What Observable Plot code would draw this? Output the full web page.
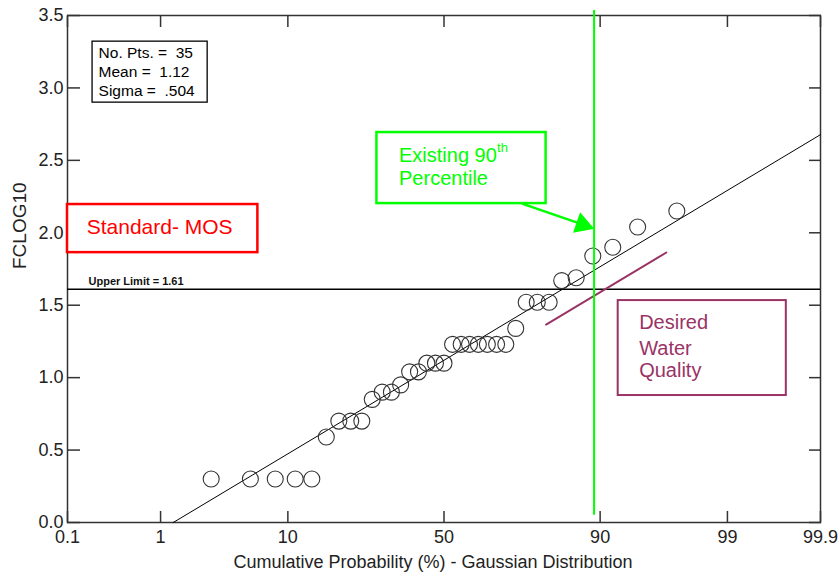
<!DOCTYPE html>
<html><head><meta charset="utf-8">
<script src="https://cdn.jsdelivr.net/npm/d3@7"></script>
<script src="https://cdn.jsdelivr.net/npm/@observablehq/plot@0.6"></script>
<style>body{margin:0;background:#fff;} svg{display:block;}</style>
</head><body><div id="chart"></div>
<script>
// ---- data ----
const probTicks = [0.1, 1, 10, 50, 90, 99, 99.9];
const probTickLabels = ["0.1", "1", "10", "50", "90", "99", "99.9"];
const yTicks = [0, 0.5, 1, 1.5, 2, 2.5, 3, 3.5];
const yTickLabels = ["0.0", "0.5", "1.0", "1.5", "2.0", "2.5", "3.0", "3.5"];
const cumProb = [2.8, 5.6, 8.3, 11.1, 13.9, 16.7, 19.4, 22.2, 25.0, 27.8, 30.6, 33.3, 36.1, 38.9, 41.7, 44.4, 47.2, 50.0, 52.8, 55.6, 58.3, 61.1, 63.9, 66.7, 69.4, 72.2, 75.0, 77.8, 80.6, 83.3, 86.1, 88.9, 91.7, 94.4, 97.2];
const fclog10 = [0.30, 0.30, 0.30, 0.30, 0.30, 0.59, 0.70, 0.70, 0.70, 0.85, 0.90, 0.90, 0.95, 1.04, 1.04, 1.10, 1.10, 1.10, 1.23, 1.23, 1.23, 1.23, 1.23, 1.23, 1.23, 1.34, 1.52, 1.52, 1.52, 1.67, 1.69, 1.84, 1.90, 2.04, 2.15];
const nPts = 35, mean = 1.12, sigma = 0.504;
const upperLimit = 1.61;
const existing90 = 89.1;           // green marker line (percent)
const desiredIntercept = 0.944;    // desired water quality line (parallel to fit)
const desiredRange = [79.9, 96.6]; // percent
const statsLines = ["No. Pts. =\u00a0\u00a035", "Mean =\u00a0\u00a01.12", "Sigma =\u00a0\u00a0.504"];
const xLabel = "Cumulative Probability (%) - Gaussian Distribution";
const yLabel = "FCLOG10";

// ---- probability (Gaussian) transform ----
function probit(p) {
  const a = [-3.969683028665376e+01, 2.209460984245205e+02, -2.759285104469687e+02, 1.383577518672690e+02, -3.066479806614716e+01, 2.506628277459239e+00];
  const b = [-5.447609879822406e+01, 1.615858368580409e+02, -1.556989798598866e+02, 6.680131188771972e+01, -1.328068155288572e+01];
  const c = [-7.784894002430293e-03, -3.223964580411365e-01, -2.400758277161838e+00, -2.549732539343734e+00, 4.374664141464968e+00, 2.938163982698783e+00];
  const d = [7.784695709041462e-03, 3.224671290700398e-01, 2.445134137142996e+00, 3.754408661907416e+00];
  const pl = 0.02425, ph = 1 - pl;
  let q, r;
  if (p < pl) { q = Math.sqrt(-2 * Math.log(p)); return (((((c[0]*q+c[1])*q+c[2])*q+c[3])*q+c[4])*q+c[5]) / ((((d[0]*q+d[1])*q+d[2])*q+d[3])*q+1); }
  if (p <= ph) { q = p - 0.5; r = q*q; return (((((a[0]*r+a[1])*r+a[2])*r+a[3])*r+a[4])*r+a[5])*q / (((((b[0]*r+b[1])*r+b[2])*r+b[3])*r+b[4])*r+1); }
  q = Math.sqrt(-2 * Math.log(1 - p)); return -(((((c[0]*q+c[1])*q+c[2])*q+c[3])*q+c[4])*q+c[5]) / ((((d[0]*q+d[1])*q+d[2])*q+d[3])*q+1);
}
const Z = pct => probit(pct / 100);
const zTicks = probTicks.map(Z);
const zMin = Z(probTicks[0]), zMax = Z(probTicks[probTicks.length - 1]);
const fmtY = v => yTickLabels[d3.leastIndex(yTicks, t => Math.abs(t - v))];

const points = cumProb.map((p, i) => ({z: Z(p), v: fclog10[i]}));
const fitLine = [(0 - mean) / sigma, zMax].map(z => ({z, v: mean + sigma * z}));
const desiredLine = desiredRange.map(p => ({z: Z(p), v: desiredIntercept + sigma * Z(p)}));
const xTickData = probTicks.map((p, i) => ({z: Z(p), label: probTickLabels[i]}));

// ---- annotation layout (data coordinates: percent, value) ----
const RED = "#ff0000", GREEN = "#00ff00", MAROON = "#993366";
const statsBox = {p1: 0.196, p2: 2.62, v1: 2.8985, v2: 3.3195, tp: 0.229, tv: [3.238, 3.111, 2.978]};
const redBox = {p1: 0.1, p2: 6.33, v1: 1.863, v2: 2.195, tp: 0.168, tv: 2.037, text: "Standard- MOS"};
const greenBox = {p1: 29.1, p2: 79.9, v1: 2.2015, v2: 2.692, tp: 35.6, tv: [2.531, 2.371], text: ["Existing 90", "Percentile"], sup: "th"};
const maroonBox = {p1: 92.36, p2: 99.752, v1: 0.8765, v2: 1.532, tp: 94.54, tv: [1.380, 1.201, 1.049], text: ["Desired", "Water", "Quality"]};
const arrow = {p1: 73.9, v1: 2.2015, p2: 86.3, v2: 2.070, hp: 87.21, hv: 2.0566};

const box = (b, stroke, sw) => Plot.rect([b], {x1: d => Z(d.p1), x2: d => Z(d.p2), y1: "v1", y2: "v2", fill: "white", stroke, strokeWidth: sw});

const chart = Plot.plot({
  width: 840, height: 583,
  marginLeft: 67, marginRight: 20, marginTop: 15, marginBottom: 61,
  style: {fontFamily: "'Liberation Sans', Arial, sans-serif", fontSize: "18px", background: "white", color: "black"},
  x: {domain: [zMin, zMax]},
  y: {domain: [0, 3.5]},
  marks: [
    // x tick labels (through the x scale)
    Plot.text(xTickData, {x: "z", text: "label", frameAnchor: "bottom", dy: 20, fontSize: 18, fill: "#222"}),
    // y tick labels
    Plot.axisY({ticks: yTicks, tickSize: 0, tickPadding: 4, tickFormat: fmtY, label: null, fontSize: 18, fill: "#222"}),
    // inward tick marks on all four sides
    Plot.axisX({anchor: "bottom", ticks: zTicks, tickSize: -11, tickFormat: () => "", label: null, stroke: "#333", strokeWidth: 1.5}),
    Plot.axisX({anchor: "top", ticks: zTicks, tickSize: -11, tickFormat: () => "", label: null, stroke: "#333", strokeWidth: 1.5}),
    Plot.axisY({anchor: "left", ticks: yTicks, tickSize: -13, tickFormat: () => "", label: null, stroke: "#333", strokeWidth: 1.5}),
    Plot.axisY({anchor: "right", ticks: yTicks, tickSize: -12, tickFormat: () => "", label: null, stroke: "#333", strokeWidth: 1.5}),
    Plot.frame({stroke: "#333", strokeWidth: 1.5}),
    // axis titles
    Plot.text([xLabel], {frameAnchor: "bottom", dy: 45, dx: -11, fontSize: 18, fill: "#222"}),
    Plot.text([yLabel], {frameAnchor: "left", dx: -48, rotate: -90, fontSize: 19, fill: "#222"}),
    // upper limit
    Plot.ruleY([upperLimit], {stroke: "black", strokeWidth: 1.5}),
    Plot.text([`Upper Limit = ${upperLimit}`], {x: zMin, y: upperLimit, dx: 21, dy: -8, textAnchor: "start", fontSize: 11, fontWeight: "bold", fill: "#111"}),
    // fit line
    Plot.line(fitLine, {x: "z", y: "v", stroke: "black", strokeWidth: 1}),
    // data points
    Plot.dot(points, {x: "z", y: "v", r: 8, stroke: "#333", strokeWidth: 1.1, fill: "none"}),
    // desired water quality line
    Plot.line(desiredLine, {x: "z", y: "v", stroke: MAROON, strokeWidth: 2}),
    // existing 90th percentile line
    Plot.ruleX([Z(existing90)], {y1: 0.05, y2: 3.535, stroke: GREEN, strokeWidth: 2}),
    // stats box
    box(statsBox, "black", 1.3),
    Plot.text(statsLines, {x: Z(statsBox.tp), y: (d, i) => statsBox.tv[i], textAnchor: "start", fontSize: 15.5, fill: "black"}),
    // Standard- MOS
    box(redBox, RED, 2.5),
    Plot.text([redBox.text], {x: Z(redBox.tp), y: redBox.tv, textAnchor: "start", fontSize: 21, fill: RED}),
    // Existing 90th percentile
    box(greenBox, GREEN, 2.5),
    Plot.text(greenBox.text, {x: Z(greenBox.tp), y: (d, i) => greenBox.tv[i], textAnchor: "start", fontSize: 20, fill: GREEN}),
    Plot.text([greenBox.sup], {x: Z(greenBox.tp), y: greenBox.tv[0], dx: 98, dy: -8, textAnchor: "start", fontSize: 13, fill: GREEN}),
    Plot.link([arrow], {x1: d => Z(d.p1), y1: "v1", x2: d => Z(d.p2), y2: "v2", stroke: GREEN, strokeWidth: 2.5}),
    Plot.dot([arrow], {x: d => Z(d.hp), y: "hv", symbol: "triangle", r: 8, fill: GREEN, rotate: 109}),
    // Desired Water Quality
    box(maroonBox, MAROON, 2),
    Plot.text(maroonBox.text, {x: Z(maroonBox.tp), y: (d, i) => maroonBox.tv[i], textAnchor: "start", fontSize: 20, fill: MAROON})
  ]
});
document.getElementById("chart").appendChild(chart);
</script>
</body></html>
